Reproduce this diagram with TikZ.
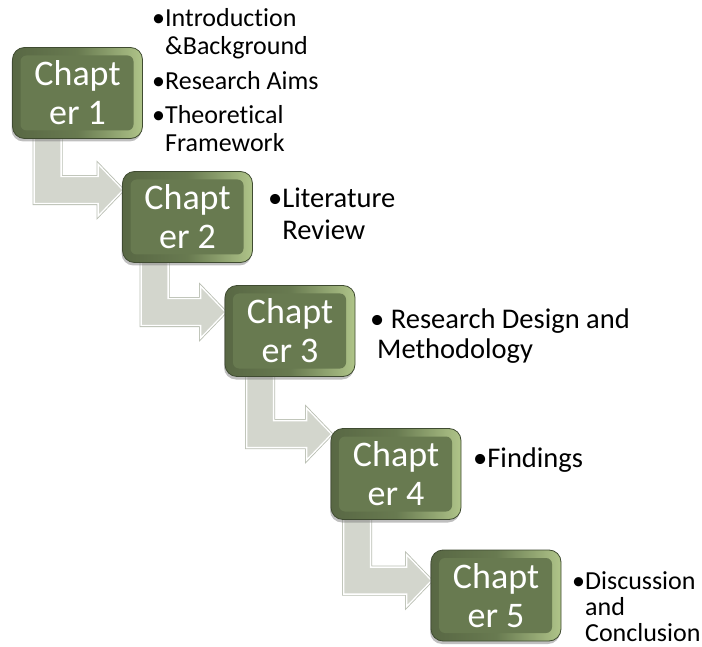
\documentclass[tikz,border=0pt]{standalone}
\usepackage{fontspec}
\setmainfont{Carlito}[Ligatures=NoCommon]
\usepackage{tikz}
\usetikzlibrary{positioning, calc, shadows, backgrounds}

\definecolor{chapfill}{HTML}{687A50}
\definecolor{chapedge}{HTML}{3F4B31}
\definecolor{chaplight}{HTML}{AFC489}
\definecolor{flowfill}{HTML}{D3D6CD}
\definecolor{flowedge}{HTML}{B9BEB2}

\begin{document}
\begin{tikzpicture}[
  x=1pt, y=-1pt,
  chapbox/.style={draw=chapedge, line width=0.8pt, rounded corners=12pt,
    minimum width=130pt, minimum height=91pt, inner sep=0pt,
    left color=chapfill!85!black, right color=chaplight, middle color=chapfill,
    drop shadow={shadow xshift=-1pt, shadow yshift=-3pt, opacity=0.5},
    path picture={\fill[chapfill, rounded corners=6pt]
      ($(path picture bounding box.north west)+(8,8)$) rectangle
      ($(path picture bounding box.south east)+(-9,-8)$);},
    text=white, align=center, font=\fontsize{36}{39}\selectfont},
  note/.style={anchor=base west, inner sep=0pt, text=black},
  flow/.style={fill=flowfill, draw=white, line width=1.3pt, line join=miter,
    preaction={draw=flowedge, line width=3pt}},
]
  \useasboundingbox (0,0) rectangle (702,647);

  \foreach \n/\x/\y in {1/77.5/93, 2/187.5/217, 3/290/331, 4/396/474, 5/496/595.5} {
    \node[chapbox] (c\n) at (\x,\y) {Chapt\\er \n};
  }

  % bent arrows, behind the boxes
  \begin{scope}[on background layer]
    \foreach \a/\b/\dx/\dy in {1/2/22/19, 2/3/19/27, 3/4/22/6, 4/5/13/31} {
      \coordinate (top\a) at ($(c\a.south west)+(\dx,-10)$);
      \coordinate (tip\a) at ($(c\b.north west)+(1,\dy)$);
      \path[flow] (top\a) -- ($(top\a |- tip\a)+(0,13.5)$)
        -- ($(tip\a)+(-25,13.5)$) -- ($(tip\a)+(-25,26)$) -- (tip\a)
        -- ($(tip\a)+(-25,-26)$) -- ($(tip\a)+(-25,-13.5)$)
        -- ($(top\a |- tip\a)+(27,-13.5)$) -- ($(top\a)+(27,0)$) -- cycle;
    }
  \end{scope}

  \node[note, font=\fontsize{26}{28}\selectfont] (n1) at (152,27)
    {\begin{tabular}[t]{@{}l@{}}
      •Introduction\\ \hphantom{•}\&Background\\[7pt]
      •Research Aims\\[6pt]
      •Theoretical\\ \hphantom{•}Framework
    \end{tabular}};
  \node[note, font=\fontsize{28.5}{32}\selectfont] (n2) at (268,208)
    {\begin{tabular}[t]{@{}l@{}}
      •Literature\\ \hphantom{•}Review
    \end{tabular}};
  \node[note, font=\fontsize{28.5}{30}\selectfont] (n3) at (370,328)
    {\begin{tabular}[t]{@{}l@{}}
      • Research Design and\\ \hspace*{7pt}Methodology
    \end{tabular}};
  \node[note, font=\fontsize{28.5}{30}\selectfont] (n4) at (473,467) {•Findings};
  \node[note, font=\fontsize{26}{26}\selectfont] (n5) at (572,589)
    {\begin{tabular}[t]{@{}l@{}}
      •Discussion\\ \hphantom{•}and\\ \hphantom{•}Conclusion
    \end{tabular}};
\end{tikzpicture}
\end{document}
